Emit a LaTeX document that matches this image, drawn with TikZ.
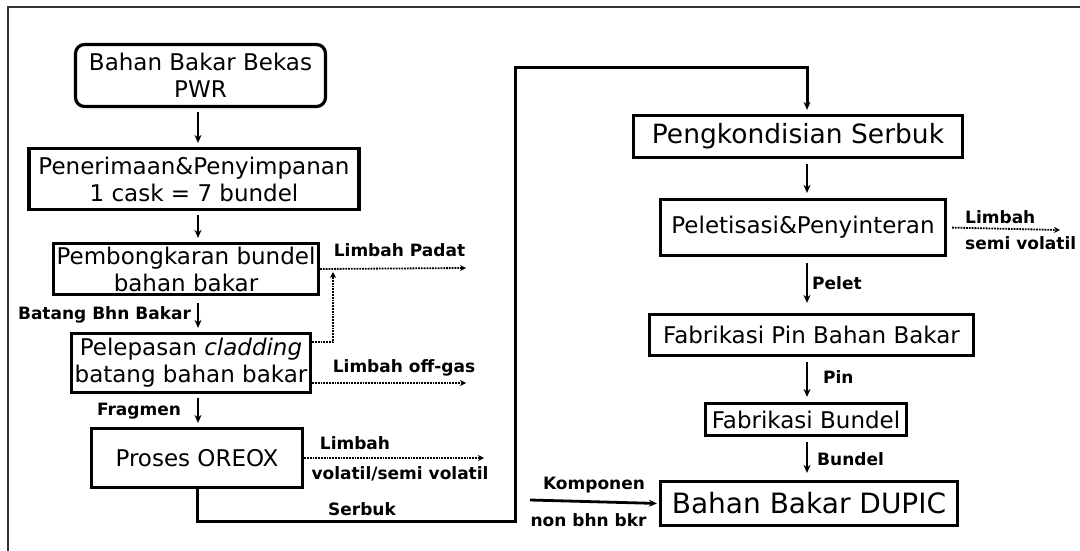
\documentclass[tikz,border=0pt]{standalone}
\usepackage{fontspec}
\setmainfont{DejaVu Sans}
\usetikzlibrary{arrows.meta}

\begin{document}
\begin{tikzpicture}[x=1pt, y=-1pt,
    proses/.style={draw, line width=3.2pt, inner sep=0pt, align=center, font=\fontsize{23}{27}\selectfont},
    ket/.style={inner sep=0pt, text height=12.4pt, text depth=0pt, font=\bfseries\fontsize{17}{19}\selectfont},
    panah/.style={line width=2.2pt, -{Stealth[length=8pt, width=7pt]}, shorten <=4pt, shorten >=4pt},
    limbah/.style={densely dotted, line width=1.8pt, -{Stealth[length=6pt, width=6pt]}}]
        \useasboundingbox (0,0) rectangle (1080,551);
        \draw[line width=2pt, black!80] (1080,7) -- (8,7) -- (8,551);

        % kolom kiri
        \node[proses, rounded corners=9pt, minimum width=250pt, minimum height=62pt] (bekas) at (200.5, 75.5) {Bahan Bakar Bekas\\PWR};
        \node[proses, minimum width=330pt, minimum height=61pt] (terima) at (194, 179) {Penerimaan\&Penyimpanan\\1 cask = 7 bundel};
        \node[proses, minimum width=265pt, minimum height=51pt] (bongkar) at (186, 269) {Pembongkaran bundel\\bahan bakar};
        \node[proses, minimum width=239pt, minimum height=59pt] (lepas) at (191, 363) {Pelepasan \textit{cladding}\\batang bahan bakar};
        \node[proses, minimum width=211pt, minimum height=59pt] (oreox) at (197, 458) {Proses OREOX};

        % kolom kanan
        \node[proses, font=\fontsize{26.5}{30}\selectfont, minimum width=329pt, minimum height=42pt] (kondisi) at (798, 136.5) {Pengkondisian Serbuk};
        \node[proses, minimum width=285pt, minimum height=56pt] (pelet) at (803, 227.5) {Peletisasi\&Penyinteran};
        \node[proses, minimum width=324pt, minimum height=41pt] (pin) at (811.5, 335) {Fabrikasi Pin Bahan Bakar};
        \node[proses, minimum width=201pt, minimum height=32pt] (bundel) at (806, 419.5) {Fabrikasi Bundel};
        \node[proses, font=\fontsize{28}{32}\selectfont, minimum width=297pt, minimum height=44pt] (dupic) at (809, 503.5) {Bahan Bakar DUPIC};

        \coordinate (kiri) at (198, 0);
        \coordinate (kanan) at (807, 0);
        \coordinate (belok1) at (515, 521);
        \coordinate (belok2) at (515, 68);
        \coordinate (padat) at (466, 268);
        \coordinate (padatnaik) at (333, 272);
        \coordinate (offgas) at (466, 383);
        \coordinate (volatil) at (484, 458);
        \coordinate (semivol) at (1060, 230);
        \coordinate (komp) at (530, 500);

        \draw[panah] (bekas.south -| kiri) -- (terima.north -| kiri);
        \draw[panah] (terima.south -| kiri) -- (bongkar.north -| kiri);
        \draw[panah, shorten <=7pt] (bongkar.south -| kiri) -- (lepas.north -| kiri);
        \draw[panah] (lepas.south -| kiri) -- (oreox.north -| kiri);

        \draw[line width=3pt, -{Stealth[length=8pt, width=7pt]}, shorten >=4pt] (oreox.south) |- (belok1) -- (belok2) -| (kondisi.north -| kanan);

        \draw[panah, shorten <=5pt, shorten >=5pt] (kondisi.south -| kanan) -- (pelet.north -| kanan);
        \draw[panah, shorten <=6pt, shorten >=10pt] (pelet.south -| kanan) -- (pin.north -| kanan);
        \draw[panah, shorten <=5pt, shorten >=5pt] (pin.south -| kanan) -- (bundel.north -| kanan);
        \draw[panah, shorten <=5pt, shorten >=7pt] (bundel.south -| kanan) -- (dupic.north -| kanan);
        \draw[panah, line width=2.8pt, shorten <=0pt, shorten >=2pt] (komp) -- (dupic.west);

        \draw[limbah] (bongkar.east) -- (padat);
        \draw[limbah] ([yshift=21pt]lepas.east) -| (padatnaik);
        \draw[limbah] ([yshift=-20pt]lepas.east) -- (offgas);
        \draw[limbah] (oreox.east) -- (volatil);
        \draw[limbah, shorten <=5pt] (pelet.east) -- (semivol);

        % keterangan
        \node[ket] (kpadat) at (399.5, 250) {Limbah Padat};
        \node[ket] (koffgas) at (404, 366) {Limbah off-gas};
        \node[ket] (klimbah) at (355, 443) {Limbah};
        \node[ket] (kvolatil) at (400, 473) {volatil/semi volatil};
        \node[ket] (kbatang) at (104.5, 313) {Batang Bhn Bakar};
        \node[ket] (kfragmen) at (139, 409) {Fragmen};
        \node[ket] (kserbuk) at (362, 509) {Serbuk};
        \node[ket, anchor=west] (klimbah2) at (965, 217) {Limbah};
        \node[ket, anchor=west] (ksemi) at (965, 243) {semi volatil};
        \node[ket, anchor=west] (kpelet) at (812, 283) {Pelet};
        \node[ket, anchor=west] (kpin) at (823, 377) {Pin};
        \node[ket, anchor=west] (kbundel) at (817, 459) {Bundel};
        \node[ket] (kkomp) at (594, 483) {Komponen};
        \node[ket] (knon) at (588.5, 520) {non bhn bkr};
    \end{tikzpicture}
\end{document}
